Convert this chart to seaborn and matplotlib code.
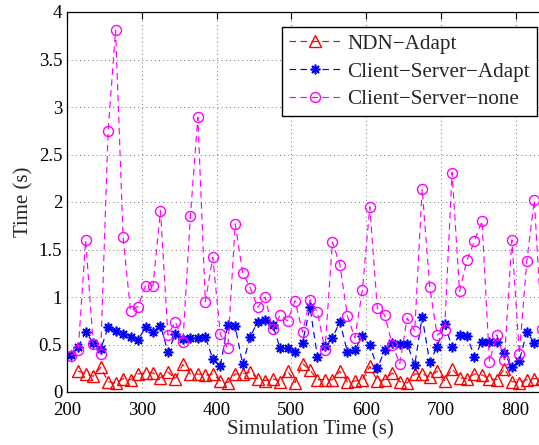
import matplotlib
matplotlib.use("Agg")
import matplotlib.pyplot as plt
import seaborn as sns
import pandas as pd
from matplotlib.ticker import FuncFormatter

# ---- data ----
time_s = [205, 215, 225, 235, 245, 255, 265, 275, 285, 295, 305, 315, 325, 335, 345, 355,
          365, 375, 385, 395, 405, 415, 425, 435, 445, 455, 465, 475, 485, 495, 505, 515,
          525, 535, 545, 555, 565, 575, 585, 595, 605, 615, 625, 635, 645, 655, 665, 675,
          685, 695, 705, 715, 725, 735, 745, 755, 765, 775, 785, 795, 805, 815, 825, 835]

ndn_time = time_s[1:]
ndn_adapt = [0.22, 0.19, 0.165, 0.26, 0.11, 0.09, 0.14, 0.13, 0.19, 0.20, 0.20, 0.15, 0.21, 0.14, 0.29,
             0.19, 0.19, 0.175, 0.19, 0.12, 0.10, 0.19, 0.19, 0.21, 0.14, 0.12, 0.14, 0.11, 0.22, 0.10,
             0.30, 0.23, 0.13, 0.13, 0.13, 0.22, 0.105, 0.115, 0.13, 0.27, 0.12, 0.13, 0.20, 0.11, 0.095,
             0.19, 0.19, 0.16, 0.22, 0.12, 0.245, 0.15, 0.14, 0.19, 0.18, 0.14, 0.13, 0.245, 0.11, 0.10,
             0.13, 0.14, 0.15]

cs_adapt = [0.39, 0.47, 0.63, 0.52, 0.45, 0.68, 0.64, 0.61, 0.58, 0.55, 0.68, 0.63, 0.70, 0.42, 0.61, 0.56,
            0.57, 0.57, 0.58, 0.35, 0.27, 0.71, 0.69, 0.29, 0.58, 0.74, 0.76, 0.71, 0.46, 0.46, 0.42, 0.52,
            0.89, 0.37, 0.48, 0.57, 0.74, 0.42, 0.44, 0.59, 0.50, 0.25, 0.44, 0.52, 0.51, 0.51, 0.28, 0.79,
            0.32, 0.47, 0.72, 0.47, 0.60, 0.59, 0.37, 0.53, 0.53, 0.53, 0.41, 0.26, 0.33, 0.63, 0.52, 0.55]

cs_none = [0.38, 0.44, 1.60, 0.51, 0.40, 2.75, 3.81, 1.63, 0.85, 0.90, 1.12, 1.12, 1.91, 0.60, 0.74, 0.53,
           1.85, 2.89, 0.95, 1.42, 0.61, 0.46, 1.77, 1.25, 1.10, 0.89, 1.00, 0.66, 0.81, 0.75, 0.96, 0.63,
           0.97, 0.84, 0.44, 1.58, 1.34, 0.80, 0.57, 1.07, 1.95, 0.88, 0.81, 0.50, 0.30, 0.78, 0.64, 2.14,
           1.11, 0.60, 0.65, 2.31, 1.06, 1.39, 1.59, 1.80, 0.32, 0.60, 0.34, 1.60, 0.40, 1.38, 2.02, 0.66]

series_names = ["NDN\u2212Adapt", "Client\u2212Server\u2212Adapt", "Client\u2212Server\u2212none"]
x_ticks = [200, 300, 400, 500, 600, 700, 800]
y_ticks = [0, 0.5, 1, 1.5, 2, 2.5, 3, 3.5, 4]

# ---- style ----
sns.set_style("white")
plt.rcParams["font.family"] = ["Liberation Serif", "DejaVu Serif"]

W, H = 539, 445
fig = plt.figure(figsize=(W / 100, H / 100), dpi=100)
ax_left, ax_right_px = 67, 553
ax_top, ax_bottom = 12, 392
ax = fig.add_axes([ax_left / W, (H - ax_bottom) / H, (ax_right_px - ax_left) / W, (ax_bottom - ax_top) / H])

dash = (0, (5.5, 3.8))
df_ndn = pd.DataFrame({"t": ndn_time, "v": ndn_adapt})
df_csa = pd.DataFrame({"t": time_s, "v": cs_adapt})
df_csn = pd.DataFrame({"t": time_s, "v": cs_none})

sns.lineplot(data=df_ndn, x="t", y="v", ax=ax, color="#ff0000", linestyle=dash, lw=0.85,
             marker="^", markersize=8, mfc="none", mec="#ff0000", mew=1.0,
             label=series_names[0], sort=False, errorbar=None)
sns.lineplot(data=df_csa, x="t", y="v", ax=ax, color="#0000ff", linestyle=dash, lw=0.85,
             marker=(8, 2, 0), markersize=7, mec="#0000ff", mew=1.2,
             label=series_names[1], sort=False, errorbar=None)
sns.lineplot(data=df_csn, x="t", y="v", ax=ax, color="#ff00ff", linestyle=dash, lw=0.85,
             marker="o", markersize=7.2, mfc="none", mec="#ff00ff", mew=1.0,
             label=series_names[2], sort=False, errorbar=None)

ax.set_xlim(200, 850)
ax.set_ylim(0, 4)
ax.set_xticks(x_ticks)
ax.set_yticks(y_ticks)
ax.yaxis.set_major_formatter(FuncFormatter(lambda v, p: f"{v:g}"))
ax.grid(True, color="#444444", linestyle=(0, (1, 4)), linewidth=0.6)
ax.tick_params(direction="in", length=5, width=0.8, top=True, right=True,
               labelsize=13.5, colors="black")
ax.tick_params(axis="x", pad=7.2)
ax.tick_params(axis="y", pad=3.5)
for s in ax.spines.values():
    s.set_color("black")
    s.set_linewidth(0.9)

ax.set_xlabel("Simulation Time (s)", fontsize=15, labelpad=1)
ax.set_ylabel("Time (s)", fontsize=15, labelpad=4)

leg = ax.legend(loc="upper right", bbox_to_anchor=(537 / W, 1 - 27 / H),
                bbox_transform=fig.transFigure, borderaxespad=0, fontsize=15.2,
                handlelength=2.4, handletextpad=0.35, labelspacing=0.38,
                borderpad=0.33, fancybox=False, framealpha=1, edgecolor="black")
leg.get_frame().set_linewidth(1.0)

fig.savefig("out.png", dpi=100)
